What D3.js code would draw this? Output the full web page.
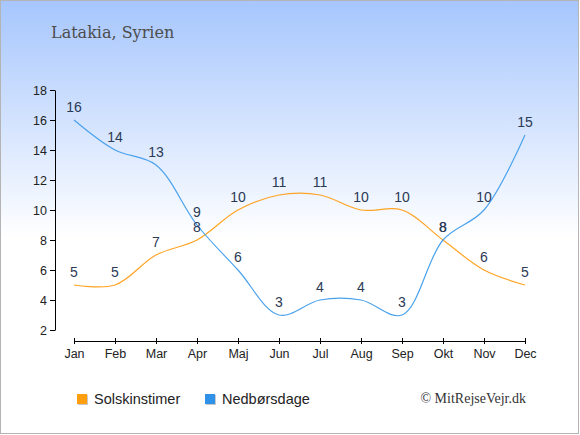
<!DOCTYPE html>
<html>
<head>
<meta charset="utf-8">
<script src="https://cdn.jsdelivr.net/npm/d3@7"></script>
<style>
  body { margin: 0; }
  text { font-family: "Liberation Sans", Arial, sans-serif; }
</style>
</head>
<body>
<div id="chart"></div>
<script>
const months = ["Jan", "Feb", "Mar", "Apr", "Maj", "Jun", "Jul", "Aug", "Sep", "Okt", "Nov", "Dec"];
const sunHours = [5, 5, 7, 8, 10, 11, 11, 10, 10, 8, 6, 5];
const rainDays = [16, 14, 13, 9, 6, 3, 4, 4, 3, 8, 10, 15];
const yTicks = [2, 4, 6, 8, 10, 12, 14, 16, 18];

const width = 580;
const height = 435;
const orange = "#ffa424";
const blue = "#4aa2ec";

const svg = d3.select("#chart")
  .append("svg")
  .attr("width", width)
  .attr("height", height);

// background gradient
const grad = svg.append("defs")
  .append("linearGradient")
  .attr("id", "bg")
  .attr("x1", 0).attr("y1", 0)
  .attr("x2", 0).attr("y2", 1);
grad.append("stop").attr("offset", "0%").attr("stop-color", "#a6c6fd");
grad.append("stop").attr("offset", "55%").attr("stop-color", "#ffffff");
grad.append("stop").attr("offset", "100%").attr("stop-color", "#ffffff");

svg.append("rect")
  .attr("x", 0.5).attr("y", 0.5)
  .attr("width", width - 2).attr("height", height - 2)
  .attr("fill", "url(#bg)")
  .attr("stroke", "#b4b4b4");

svg.append("text")
  .attr("x", 51).attr("y", 38)
  .style("font-family", "'DejaVu Serif', serif")
  .style("font-size", "16px")
  .attr("fill", "#4d4d4d")
  .text("Latakia, Syrien");

const x = d3.scalePoint().domain(months).range([74, 525]);
const y = d3.scaleLinear().domain([2, 18]).range([330, 90]);

// axes
const yAxis = svg.append("g")
  .attr("transform", "translate(55,0)")
  .call(d3.axisLeft(y).tickValues(yTicks).tickSizeInner(5).tickSizeOuter(0).tickPadding(3));
const xAxis = svg.append("g")
  .attr("transform", "translate(0,341)")
  .call(d3.axisBottom(x).tickSizeInner(-3).tickSizeOuter(0).tickPadding(8));

[xAxis, yAxis].forEach(g => {
  g.selectAll("path, line").attr("stroke", "#000");
  g.selectAll("text")
    .attr("fill", "#222")
    .style("font-family", "'Liberation Sans', Arial, sans-serif")
    .style("font-size", "12.5px");
});
xAxis.selectAll(".tick line").attr("y2", 3).attr("y1", -3);

const lineGen = d3.line()
  .x((d, i) => x(months[i]))
  .y(d => y(d))
  .curve(d3.curveCatmullRom.alpha(0.5));

const series = [
  { name: "Solskinstimer", values: sunHours, color: orange },
  { name: "Nedbørsdage", values: rainDays, color: blue }
];

series.forEach(s => {
  svg.append("path")
    .datum(s.values)
    .attr("fill", "none")
    .attr("stroke", s.color)
    .attr("stroke-width", 1.2)
    .attr("d", lineGen);
});

series.forEach(s => {
  svg.append("g")
    .selectAll("text")
    .data(s.values)
    .enter()
    .append("text")
    .attr("x", (d, i) => x(months[i]))
    .attr("y", d => y(d) - 8)
    .attr("text-anchor", "middle")
    .attr("fill", "#2b3a55")
    .style("font-size", "14px")
    .text(d => d);
});

// legend
const legend = svg.append("g");
const legendX = [77, 205];
series.forEach((s, i) => {
  legend.append("rect")
    .attr("x", legendX[i] + 1).attr("y", 395)
    .attr("width", 10).attr("height", 10)
    .attr("fill", "#c8c8c8");
  legend.append("rect")
    .attr("x", legendX[i]).attr("y", 394)
    .attr("width", 10).attr("height", 10)
    .attr("fill", i === 0 ? "#ff9f0f" : "#2f91e8");
  legend.append("text")
    .attr("x", legendX[i] + 17).attr("y", 404)
    .attr("fill", "#222")
    .style("font-size", "14.5px")
    .text(s.name);
});

svg.append("text")
  .attr("x", 526).attr("y", 403)
  .attr("text-anchor", "end")
  .style("font-family", "'Liberation Serif', serif")
  .style("font-size", "14px")
  .attr("fill", "#333")
  .text("© MitRejseVejr.dk");
</script>
</body>
</html>
